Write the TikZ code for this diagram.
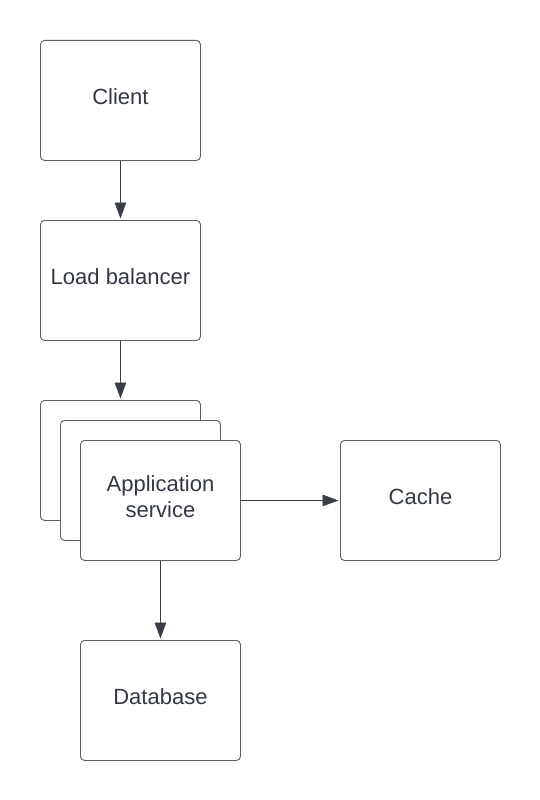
\documentclass[tikz,border=0pt]{standalone}
\usepackage{fontspec}
\setmainfont{Liberation Sans}
\usetikzlibrary{arrows.meta}
\definecolor{edge}{HTML}{5E5E5E}
\definecolor{ink}{HTML}{333842}
\definecolor{arrowc}{HTML}{3A3F47}
\begin{document}
\begin{tikzpicture}[x=1pt,y=-1pt,
  box/.style={draw=edge, line width=0.9pt, fill=white, rounded corners=4pt,
    minimum width=160pt, minimum height=120pt, inner sep=0pt, anchor=north west,
    font=\fontsize{22}{26}\selectfont, text=ink, align=center, text depth=7pt},
  conn/.style={draw=arrowc, line width=0.9pt, -{Triangle[length=16pt,width=11.5pt]}, shorten >=1.5pt}]
\useasboundingbox (0,0) rectangle (540,800);
\node[box] (client) at (40,40) {Client};
\node[box] (lb) at (40,220) {Load balancer};
\node[box] (app3) at (40,400) {};
\node[box] (app2) at (60,420) {};
\node[box] (app) at (80,440) {Application\\service};
\node[box] (cache) at (340,440) {Cache};
\node[box] (db) at (80,640) {Database};
\draw[conn] (client.south) -- (lb.north);
\draw[conn] (lb.south) -- (app3.north);
\draw[conn] (app.east) -- (cache.west);
\draw[conn] (app.south) -- (db.north);
\end{tikzpicture}
\end{document}
